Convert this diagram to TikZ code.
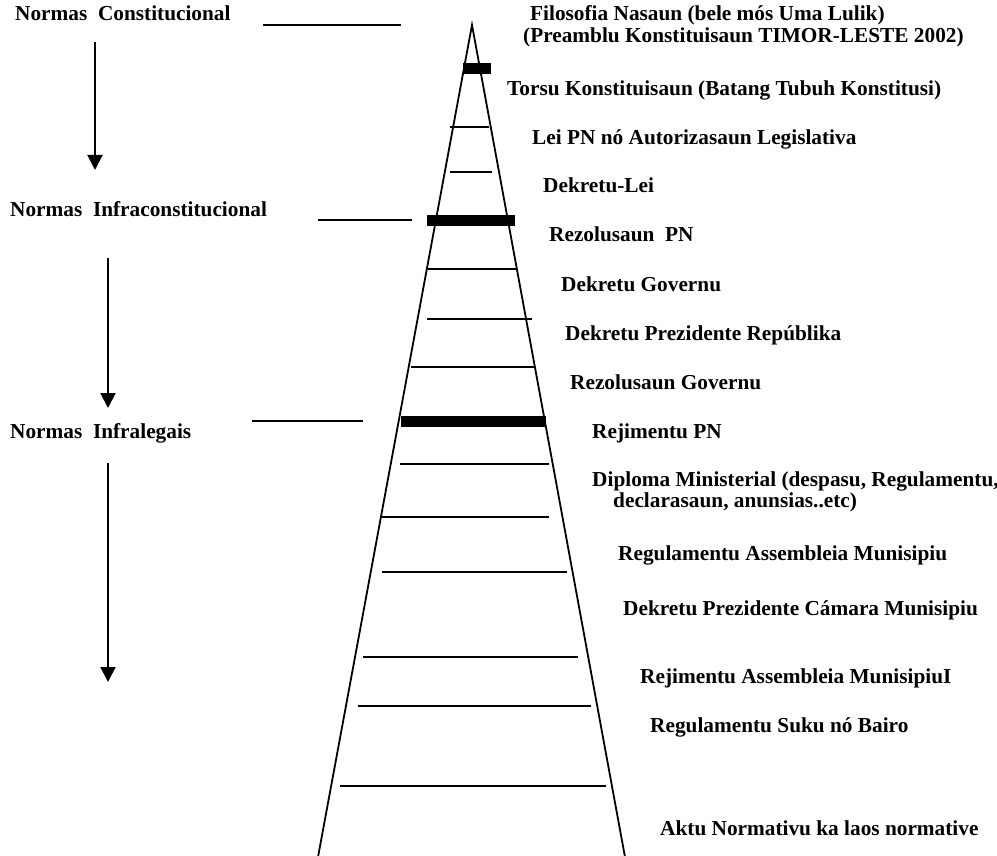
\documentclass[tikz,border=0pt]{standalone}
\usepackage{fontspec}
\setmainfont{Liberation Serif}
\usetikzlibrary{arrows.meta}
\begin{document}
\begin{tikzpicture}[x=1pt,y=-1pt,
  lbl/.style={anchor=base west,inner sep=0pt,font=\fontsize{21.3}{25}\selectfont\bfseries},
  thin/.style={line width=1.8pt},
  bar/.style={fill=black,draw=none},
  downarrow/.style={line width=2pt,-{Triangle[length=15pt,width=15pt]}}]
\useasboundingbox (0,0) rectangle (997,856);
% pyramid
\coordinate (apex) at (472,25);
\coordinate (bl) at (318,857);
\coordinate (br) at (625,857);
\draw[thin,line join=miter] (bl) -- (apex) -- (br);
% thick bars
\fill[bar] (463,63) rectangle (491,74);
\fill[bar] (427,215) rectangle (515,226);
\fill[bar] (401,416) rectangle (546,427);
% thin rungs
\draw[thin] (450,127) -- (489,127);
\draw[thin] (450,172) -- (492,172);
\draw[thin] (428,269) -- (516,269);
\draw[thin] (427,319) -- (532,319);
\draw[thin] (411,367) -- (534,367);
\draw[thin] (400,464) -- (549,464);
\draw[thin] (382,517) -- (549,517);
\draw[thin] (382,572) -- (567,572);
\draw[thin] (363,657) -- (578,657);
\draw[thin] (358,706) -- (591,706);
\draw[thin] (340,786) -- (606,786);
% left leader lines
\draw[thin] (263,25) -- (401,25);
\draw[thin] (318,220) -- (412,220);
\draw[thin] (252,421) -- (363,421);
% left labels
\node[lbl] (nc) at (15,21) {Normas\hspace{0.5em}Constitucional};
\node[lbl] (ni) at (10,217) {Normas\hspace{0.5em}Infraconstitucional};
\node[lbl] (nl) at (10,438) {Normas\hspace{0.5em}Infralegais};
% arrows
\coordinate (a1s) at (95,42);  \coordinate (a1e) at (95,170);
\coordinate (a2s) at (108,258); \coordinate (a2e) at (108,408);
\coordinate (a3s) at (108,463); \coordinate (a3e) at (108,682);
\draw[downarrow] (a1s) -- (a1e);
\draw[downarrow] (a2s) -- (a2e);
\draw[downarrow] (a3s) -- (a3e);
% right labels
\node[lbl] (t1) at (530,21) {Filosofia Nasaun (bele mós Uma Lulik)};
\node[lbl] (t2) at (523,43) {(Preamblu Konstituisaun TIMOR-LESTE 2002)};
\node[lbl] (t3) at (507,96) {Torsu Konstituisaun (Batang Tubuh Konstitusi)};
\node[lbl] (t4) at (532,145) {Lei PN nó Autorizasaun Legislativa};
\node[lbl] (t5) at (543,193) {Dekretu-Lei};
\node[lbl] (t6) at (549,242) {Rezolusaun\hspace{0.5em}PN};
\node[lbl] (t7) at (561,291) {Dekretu Governu};
\node[lbl] (t8) at (565,340) {Dekretu Prezidente Repúblika};
\node[lbl] (t9) at (570,389) {Rezolusaun Governu};
\node[lbl] (t10) at (592,438) {Rejimentu PN};
\node[lbl] (t11) at (592,486) {Diploma Ministerial (despasu, Regulamentu,};
\node[lbl] (t11b) at (613,507) {declarasaun, anunsias..etc)};
\node[lbl] (t12) at (618,560) {Regulamentu Assembleia Munisipiu};
\node[lbl] (t13) at (623,615) {Dekretu Prezidente Cámara Munisipiu};
\node[lbl] (t14) at (640,683) {Rejimentu Assembleia MunisipiuI};
\node[lbl] (t15) at (650,732) {Regulamentu Suku nó Bairo};
\node[lbl] (t16) at (660,835) {Aktu Normativu ka laos normative};
\end{tikzpicture}
\end{document}
